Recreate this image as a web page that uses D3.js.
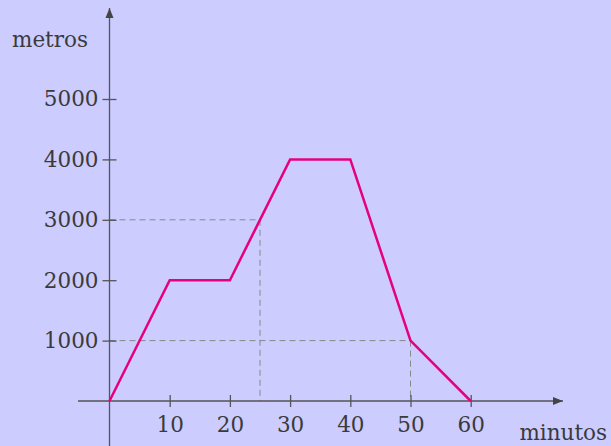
<!DOCTYPE html>
<html>
<head>
<meta charset="utf-8">
<script src="https://cdn.jsdelivr.net/npm/d3@7"></script>
<style>
  html, body { margin: 0; padding: 0; background: #ccccff; }
  svg { display: block; }
  svg text.lbl { font-family: 'DejaVu Serif', serif; font-size: 21.5px; fill: #3a3a3a; }
</style>
</head>
<body>
<div id="container"></div>
<script>
// data
const minutos = [0, 10, 20, 30, 40, 50, 60]
const metros = [0, 2000, 2000, 4000, 4000, 1000, 0]
const xTicks = [10, 20, 30, 40, 50, 60]
const yTicks = [1000, 2000, 3000, 4000, 5000]
// dashed guides: [minutes, metres]
const guideX = [25, 50]
const guideY = [3000, 1000]

const width = 611
const height = 446
const ink = '#555'

// scales: 0 min at x=109.5, 10 min = 60.2px; 0 m at y=401, 1000 m = 60.4px
const x = d3.scaleLinear().domain([0, 60]).range([109.5, 470.7])
const y = d3.scaleLinear().domain([0, 5000]).range([401, 99])

const svg = d3.create('svg')
    .attr('width', width)
    .attr('height', height)

svg.append('rect')
    .attr('width', width)
    .attr('height', height)
    .attr('fill', '#ccccff')

// arrow heads
const defs = svg.append('defs')
defs.append('marker')
    .attr('id', 'arrow')
    .attr('viewBox', '0 0 10 10')
    .attr('refX', 10)
    .attr('refY', 5)
    .attr('markerWidth', 10)
    .attr('markerHeight', 10)
    .attr('markerUnits', 'userSpaceOnUse')
    .attr('orient', 'auto')
  .append('path')
    .attr('d', 'M0,1 L10,5 L0,9 Z')
    .attr('fill', '#444')

// dashed guides
const guides = svg.append('g')
    .attr('stroke', '#888')
    .attr('stroke-width', 1)
    .attr('stroke-dasharray', '6 4')
guideX.forEach((gx, i) => {
  guides.append('line')
      .attr('x1', x(0)).attr('x2', x(gx))
      .attr('y1', y(guideY[i])).attr('y2', y(guideY[i]))
  guides.append('line')
      .attr('x1', x(gx)).attr('x2', x(gx))
      .attr('y1', y(guideY[i])).attr('y2', y(0))
})

// x axis
svg.append('line')
    .attr('x1', 78).attr('x2', 563)
    .attr('y1', y(0)).attr('y2', y(0))
    .attr('stroke', ink).attr('stroke-width', 1.3)
    .attr('marker-end', 'url(#arrow)')

// y axis
svg.append('line')
    .attr('x1', x(0)).attr('x2', x(0))
    .attr('y1', height).attr('y2', 8)
    .attr('stroke', ink).attr('stroke-width', 1.3)
    .attr('marker-end', 'url(#arrow)')

const bottomAxis = svg.append('g')
    .attr('transform', `translate(0,${y(0) + 6})`)
    .call(d3.axisBottom(x).tickValues(xTicks).tickFormat(d3.format('d')).tickSize(12).tickSizeOuter(0))
bottomAxis.attr('font-family', null).attr('font-size', null)
bottomAxis.select('.domain').remove()
bottomAxis.selectAll('line').attr('stroke', ink).attr('stroke-width', 1.3).attr('y1', -12).attr('y2', 0)
bottomAxis.selectAll('text')
    .attr('class', 'lbl')
    .attr('y', 10)
    .attr('dy', '0.71em')
    .attr('fill', null)

const leftAxis = svg.append('g')
    .attr('transform', `translate(${x(0) + 7},0)`)
    .call(d3.axisLeft(y).tickValues(yTicks).tickFormat(d3.format('d')).tickSize(14).tickSizeOuter(0))
leftAxis.attr('font-family', null).attr('font-size', null)
leftAxis.select('.domain').remove()
leftAxis.selectAll('line').attr('stroke', ink).attr('stroke-width', 1.3)
leftAxis.selectAll('text')
    .attr('class', 'lbl')
    .attr('x', -18)
    .attr('fill', null)

// axis labels
svg.append('text')
    .attr('class', 'lbl')
    .attr('x', 12).attr('y', 47)
    .text('metros')
svg.append('text')
    .attr('class', 'lbl')
    .attr('x', 607).attr('y', 440)
    .attr('text-anchor', 'end')
    .text('minutos')

// the walk
const line = d3.line()
    .x((d, i) => x(minutos[i]))
    .y(d => y(d))
svg.append('path')
    .datum(metros)
    .attr('d', line)
    .attr('fill', 'none')
    .attr('stroke', '#e6007e')
    .attr('stroke-width', 2.5)
    .attr('stroke-linejoin', 'miter')

d3.select('#container').append(() => svg.node())
</script>
</body>
</html>
